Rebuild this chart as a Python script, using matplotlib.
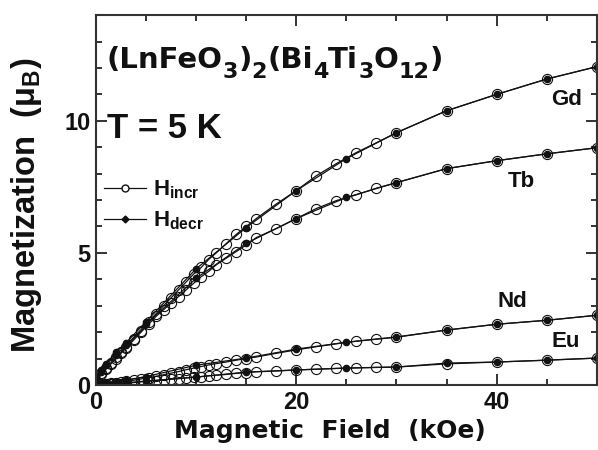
import matplotlib
matplotlib.use("Agg")
import matplotlib.pyplot as plt
from matplotlib.lines import Line2D
from matplotlib.ticker import MultipleLocator
from matplotlib.transforms import offset_copy

plt.rcParams['font.family'] = ['Liberation Sans', 'DejaVu Sans']
plt.rcParams['mathtext.default'] = 'regular'
ink = '#111111'
wide = 'DejaVu Sans'   # wider bold face for the stretched-looking texts

# field sweep, increasing (open circles)
h_incr = [0, 0.5, 1, 1.5, 2, 2.5, 3, 3.75, 4.5, 5.25, 6, 6.75, 7.5, 8.25, 9, 9.75,
          10.5, 11.25, 12, 13, 14, 15, 16, 18, 20, 22, 24, 26, 28, 30, 35, 40, 45, 50]
gd_incr = [0.15, 0.45, 0.65, 0.85, 1.05, 1.25, 1.45, 1.75, 2.05, 2.4, 2.7, 3.0, 3.3, 3.6, 3.9, 4.2,
           4.45, 4.75, 5.0, 5.35, 5.7, 6.0, 6.3, 6.85, 7.36, 7.92, 8.38, 8.8, 9.17, 9.55, 10.38, 11.0, 11.58, 12.05]
tb_incr = [0.1, 0.4, 0.6, 0.8, 1.0, 1.2, 1.4, 1.7, 2.0, 2.3, 2.6, 2.85, 3.1, 3.35, 3.6, 3.85,
           4.1, 4.3, 4.55, 4.8, 5.05, 5.3, 5.58, 5.92, 6.3, 6.68, 6.98, 7.2, 7.45, 7.66, 8.19, 8.49, 8.75, 8.98]
nd_incr = [0, 0.02, 0.04, 0.06, 0.08, 0.11, 0.14, 0.18, 0.23, 0.28, 0.33, 0.39, 0.45, 0.51, 0.58, 0.64,
           0.7, 0.76, 0.81, 0.87, 0.94, 1.0, 1.06, 1.2, 1.33, 1.45, 1.56, 1.66, 1.74, 1.82, 2.08, 2.3, 2.45, 2.64]
eu_incr = [0, 0.01, 0.02, 0.03, 0.04, 0.05, 0.07, 0.09, 0.12, 0.14, 0.17, 0.19, 0.22, 0.24, 0.27, 0.3,
           0.32, 0.35, 0.37, 0.4, 0.44, 0.47, 0.5, 0.53, 0.57, 0.6, 0.63, 0.65, 0.67, 0.68, 0.8, 0.87, 0.94, 1.02]

# field sweep, decreasing (filled dots)
h_decr = [50, 45, 40, 35, 30, 25, 20, 15, 10, 5, 3, 2, 1, 0.5, 0]
gd_decr = [12.05, 11.58, 11.0, 10.38, 9.55, 8.57, 7.36, 5.96, 4.4, 2.4, 1.6, 1.25, 0.8, 0.55, 0.35]
tb_decr = [8.98, 8.75, 8.49, 8.19, 7.66, 7.1, 6.3, 5.36, 4.04, 2.3, 1.5, 1.15, 0.75, 0.5, 0.3]
nd_decr = [2.64, 2.45, 2.3, 2.08, 1.81, 1.62, 1.36, 1.02, 0.75, 0.32, 0.18, 0.12, 0.06, 0.03, 0.0]
eu_decr = [1.02, 0.94, 0.87, 0.83, 0.68, 0.64, 0.57, 0.49, 0.3, 0.15, 0.09, 0.06, 0.03, 0.01, 0.0]

names = ['Gd', 'Tb', 'Nd', 'Eu']
incr = [gd_incr, tb_incr, nd_incr, eu_incr]
decr = [gd_decr, tb_decr, nd_decr, eu_decr]
label_pos = [(47, 10.8), (42.5, 7.7), (41.6, 3.15), (46.9, 1.66)]

# formula pieces: (text, is_subscript)
formula = [('(LnFeO', 0), ('3', 1), (')', 0), ('2', 1), ('(Bi', 0), ('4', 1),
           ('Ti', 0), ('3', 1), ('O', 0), ('12', 1), (')', 0)]

fig = plt.figure(figsize=(5.98, 4.5), dpi=100)
ax = fig.add_axes([0.1605, 0.1444, 0.8375, 0.822])

for name, yi, yd, (lx, ly) in zip(names, incr, decr, label_pos):
    ax.plot(h_incr, yi, color=ink, lw=0.9, marker='o', ms=7.3, mfc='none', mec=ink, mew=0.8)
    ax.plot(h_decr, yd, color=ink, lw=0.9, marker='o', ms=4.5, mfc=ink, mec=ink)
    ax.text(lx, ly, name, fontsize=16, fontweight='bold', color=ink, ha='center', va='center')

ax.set_xlim(0, 50)
ax.set_ylim(0, 14)
ax.xaxis.set_major_locator(MultipleLocator(20))
ax.xaxis.set_minor_locator(MultipleLocator(5))
ax.yaxis.set_major_locator(MultipleLocator(5))
ax.yaxis.set_minor_locator(MultipleLocator(1))
ax.tick_params(which='both', direction='in', top=True, right=True, colors=ink, width=1.2)
ax.tick_params(which='major', length=8, labelsize=17, pad=4)
ax.tick_params(which='minor', length=4)
for lab in ax.get_xticklabels() + ax.get_yticklabels():
    lab.set_fontweight('bold')
for sp in ax.spines.values():
    sp.set_linewidth(1.5)
    sp.set_color('#333333')

ax.set_xlabel('Magnetic  Field  (kOe)', fontsize=18, fontweight='bold', color=ink, family=wide)
ax.set_ylabel('Magnetization  (μ$_B$)', fontsize=23.5, fontweight='bold', color=ink)
ax.xaxis.set_label_coords(0.467, -0.093)
ax.yaxis.set_label_coords(-0.104, 0.486)

# formula with large, deep subscripts, drawn piece by piece
renderer = fig.canvas.get_renderer()
dx = 0.0
for s, sub in formula:
    tr = offset_copy(ax.transAxes, fig=fig, x=dx, y=-7 if sub else 0, units='points')
    t = ax.text(0.022, 0.857, s, transform=tr, fontsize=16 if sub else 21,
                fontweight='bold', color=ink, ha='left', va='baseline', family=wide)
    dx += t.get_window_extent(renderer).width * 72 / fig.dpi

ax.text(0.022, 0.738, 'T = 5 K', transform=ax.transAxes,
        fontsize=25, fontweight='bold', color=ink, ha='left', va='top')

handles = [Line2D([], [], color=ink, lw=0.9, marker='o', ms=5, mfc='white', mec=ink),
           Line2D([], [], color=ink, lw=0.9, marker='D', ms=3.5, mfc=ink, mec=ink)]
leg = ax.legend(handles, ['H$_{incr}$', 'H$_{decr}$'], loc='upper left',
                bbox_to_anchor=(-0.015, 0.60), frameon=False, fontsize=16,
                handlelength=1.9, handletextpad=0.3, labelspacing=0.38, borderpad=0.2)
for t in leg.get_texts():
    t.set_fontweight('bold')
    t.set_color(ink)

fig.savefig('out.png', dpi=100)
